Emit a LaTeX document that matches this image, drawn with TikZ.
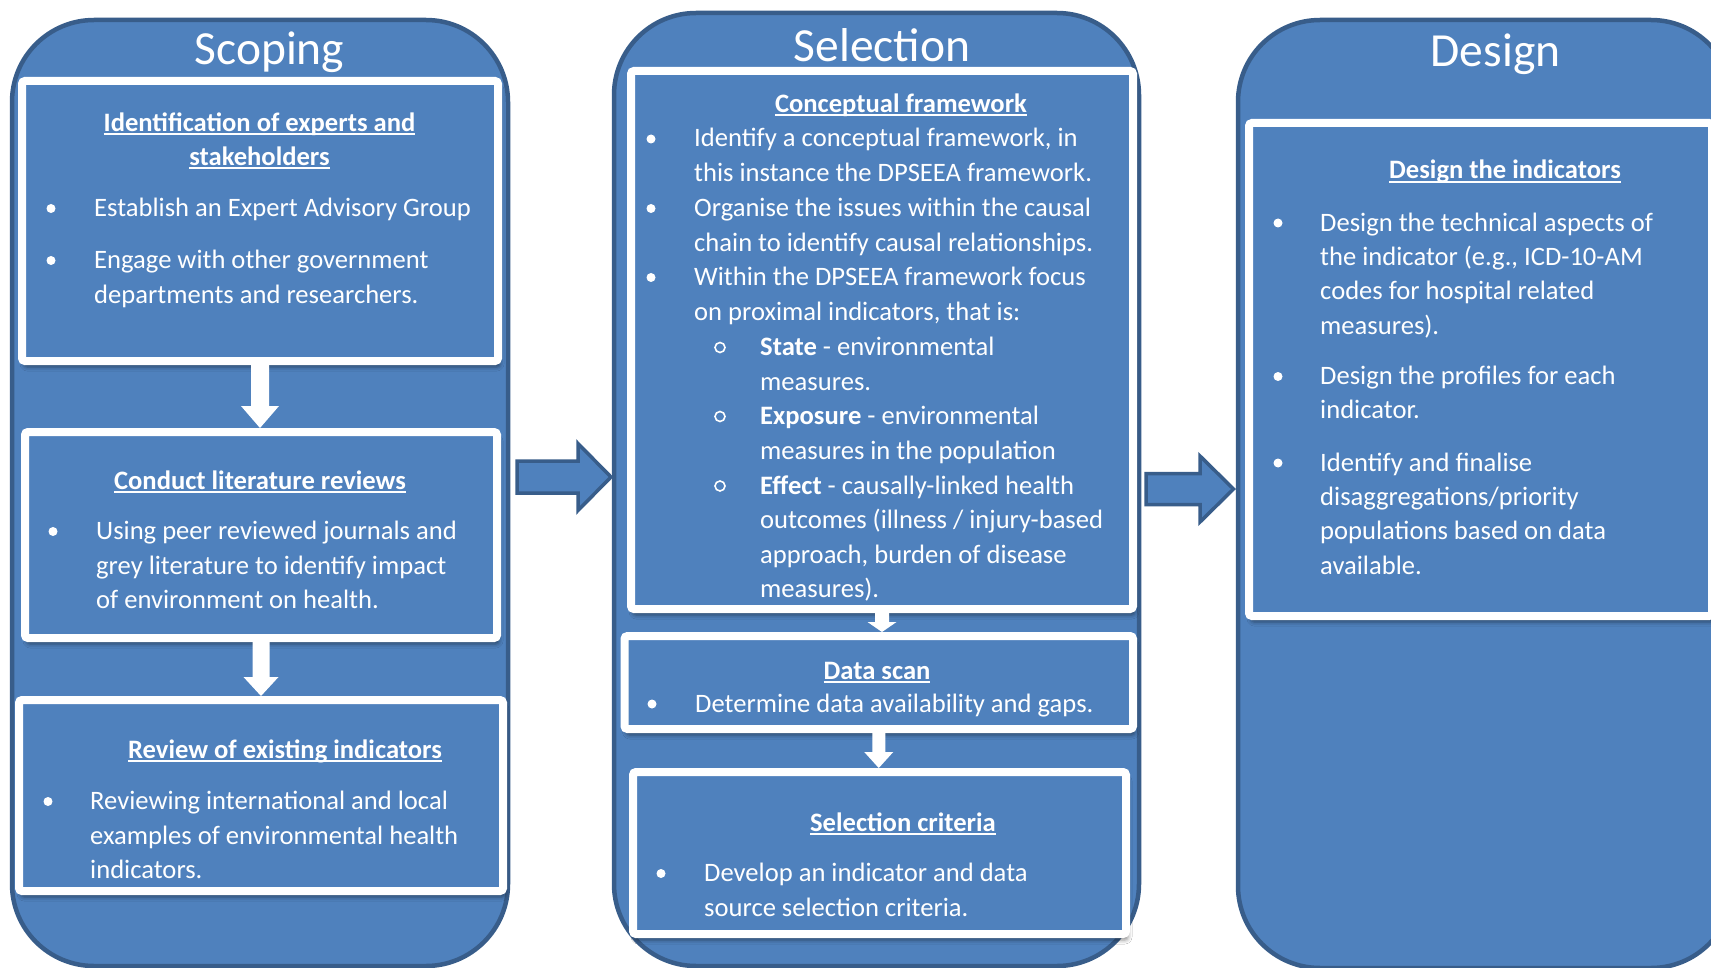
\documentclass[tikz,border=0pt]{standalone}
\usepackage{fontspec}
\setmainfont{Carlito}
\usetikzlibrary{calc,shadows.blur}

\definecolor{panelblue}{HTML}{4F81BD}
\definecolor{paneledge}{HTML}{385D8A}

% bold heading underline drawn as a rule under the measured text
\newsavebox\ulbox
\newcommand\ulbf[1]{\sbox\ulbox{#1}\rlap{\rule[-3.6pt]{\wd\ulbox}{2pt}}\usebox\ulbox}

% white block arrow pointing down, from one box anchor to the next
% #1 tail anchor, #2 tip anchor, #3 shaft half width, #4 head half width, #5 head length
\newcommand\stepdownarrow[5]{%
  \fill[white] let \p1=(#1), \p2=(#2) in
    (\x1-#3pt,\y1) -- (\x1+#3pt,\y1) -- (\x1+#3pt,\y2+#5pt) -- (\x1+#4pt,\y2+#5pt)
    -- (\x1,\y2) -- (\x1-#4pt,\y2+#5pt) -- (\x1-#3pt,\y2+#5pt) -- cycle;}

% blue outlined block arrow pointing right between stages
\newcommand\stageflowarrow[5]{%
  \draw[flowarrow] let \p1=(#1), \p2=(#2) in
    (\x1,\y1+#3pt) -- (\x2-#5pt,\y1+#3pt) -- (\x2-#5pt,\y1+#4pt) -- (\x2,\y2)
    -- (\x2-#5pt,\y1-#4pt) -- (\x2-#5pt,\y1-#3pt) -- (\x1,\y1-#3pt) -- cycle;}

% line pitch of the body text; multi-line nodes are anchored on their last baseline
\def\lp{34.6}
\def\lpd{34.4}

\tikzset{
  column/.style={draw=paneledge, line width=4.5pt, fill=panelblue, rounded corners=82pt, inner sep=0pt},
  stepbox/.style={draw=white, line width=8pt, fill=panelblue, rounded corners=3pt, inner sep=0pt,
    blur shadow={shadow xshift=2pt, shadow yshift=-6pt, shadow blur radius=4pt, shadow opacity=45}},
  title/.style={text=white, font=\fontsize{47.5}{56}\selectfont, anchor=base, inner sep=0pt},
  head/.style={text=white, font=\fontsize{26.6}{34}\selectfont\bfseries, anchor=base, align=center, inner sep=0pt},
  body/.style={text=white, font=\fontsize{26.6}{34.6}\selectfont, anchor=base west, align=left, inner sep=0pt},
  dbody/.style={body, font=\fontsize{26.6}{34.4}\selectfont},
  dot/.style={circle, fill=white, minimum size=9pt, inner sep=0pt},
  ring/.style={circle, draw=white, line width=1.6pt, minimum size=10pt, inner sep=0pt},
  flowarrow/.style={fill=panelblue, draw=paneledge, line width=3.5pt, line join=miter},
}

\begin{document}
\begin{tikzpicture}[x=1pt,y=-1pt]
\useasboundingbox (0,0) rectangle (1711,968);
\fill[white] (0,0) rectangle (1711,968);
\clip (0,0) rectangle (1711,968);

% stage columns
\node[column, minimum width=496pt, minimum height=946pt] (colS) at (260,493) {};
\node[column, minimum width=525pt, minimum height=953pt] (colL) at (876.5,489.5) {};
\node[column, minimum width=495pt, minimum height=948pt] (colD) at (1485.5,494) {};

\node[title] (tS) at (269.5,65) {Scoping};
\node[title] (tL) at (882,62) {Selection};
\node[title] (tD) at (1495.5,67) {Design};

% arrows between stages
\coordinate (hS) at (517,477);
\coordinate (hL) at (611,477);
\coordinate (hL2) at (1146,489);
\coordinate (hD) at (1233.5,489);
\stageflowarrow{hS}{hL}{16}{33.5}{33}
\stageflowarrow{hL2}{hD}{15.5}{33}{33.5}

% step boxes
\node[stepbox, minimum width=476pt, minimum height=280pt] (sA) at (260,221) {};
\node[stepbox, minimum width=472pt, minimum height=206pt] (sB) at (261,535) {};
\node[stepbox, minimum width=484pt, minimum height=191pt] (sC) at (261,795.5) {};
\node[stepbox, minimum width=502pt, minimum height=538pt] (lA) at (882,340) {};
\node[stepbox, minimum width=508.5pt, minimum height=93pt] (lB) at (878.75,682.5) {};
\node[stepbox, minimum width=493pt, minimum height=162pt] (lC) at (879.5,853) {};
\node[stepbox, minimum width=463pt, minimum height=493pt] (dA) at (1480.5,369.5) {};

% arrows between steps
\stepdownarrow{sA.south}{sB.north}{9}{19}{22}
\stepdownarrow{sB.south}{sC.north}{8.5}{17.5}{19}
\stepdownarrow{lA.south}{lB.north}{7}{14.5}{10}
\stepdownarrow{lB.south}{lC.north}{6.5}{14.5}{16}

\begin{scope}[yshift=-1.5pt]
% Scoping
\node[head] (hA) at (259.5,164) {\ulbf{Identification of experts and}\\\ulbf{stakeholders}};
\node[dot] (bA1) at (51,207) {};
\node[body] (xA1) at (94,215) {Establish an Expert Advisory Group};
\node[dot] (bA2) at (51,259) {};
\node[body] (xA2) at (94,{267+\lp}) {Engage with other government\\departments and researchers.};

\node[head] (hB) at (260,488) {\ulbf{Conduct literature reviews}};
\node[dot] (bB1) at (53,530) {};
\node[body] (xB1) at (96,{538+2*\lp}) {Using peer reviewed journals and\\grey literature to identify impact\\of environment on health.};

\node[head] (hC) at (285,757) {\ulbf{Review of existing indicators}};
\node[dot] (bC1) at (48,800) {};
\node[body] (xC1) at (90,{808+2*\lp}) {Reviewing international and local\\examples of environmental health\\indicators.};

% Selection
\node[head] (hL1) at (901,110.6) {\ulbf{Conceptual framework}};
\node[dot] (bL1) at (651,137.5) {};
\node[body] (xL1) at (694,{145.5+\lp}) {Identify a conceptual framework, in\\this instance the DPSEEA framework.};
\node[dot] (bL2) at (651,207) {};
\node[body] (xL2) at (694,{215+\lp}) {Organise the issues within the causal\\chain to identify causal relationships.};
\node[dot] (bL3) at (651,276) {};
\node[body] (xL3) at (694,{284+\lp}) {Within the DPSEEA framework focus\\on proximal indicators, that is:};
\node[ring] (rL1) at (720,346) {};
\node[body] (xL4) at (760,{354+\lp}) {\textbf{State} - environmental\\measures.};
\node[ring] (rL2) at (720,415) {};
\node[body] (xL5) at (760,{423+\lp}) {\textbf{Exposure} - environmental\\measures in the population};
\node[ring] (rL3) at (720,484.5) {};
\node[body] (xL6) at (760,{492.5+3*\lp}) {\textbf{Effect} - causally-linked health\\outcomes (illness / injury-based\\approach, burden of disease\\measures).};

\node[head] (hL2t) at (877,678) {\ulbf{Data scan}};
\node[dot] (bL4) at (652,702.5) {};
\node[body] (xL7) at (695,710.5) {Determine data availability and gaps.};

\node[head] (hL3) at (903,829.5) {\ulbf{Selection criteria}};
\node[dot] (bL5) at (661,872) {};
\node[body] (xL8) at (704,{880+\lp}) {Develop an indicator and data\\source selection criteria.};
\end{scope}

% Design
\node[head] (hD1) at (1505,179) {\ulbf{Design the indicators}};
\node[dot] (bD1) at (1278,223) {};
\node[dbody] (xD1) at (1320,{231+3*\lpd}) {Design the technical aspects of\\the indicator (e.g., ICD-10-AM\\codes for hospital related\\measures).};
\node[dot] (bD2) at (1278,376.5) {};
\node[dbody] (xD2) at (1320,{384.5+\lpd}) {Design the profiles for each\\indicator.};
\node[dot] (bD3) at (1278,463) {};
\node[dbody] (xD3) at (1320,{471+3*\lpd}) {Identify and finalise\\disaggregations/priority\\populations based on data\\available.};
\end{tikzpicture}
\end{document}
